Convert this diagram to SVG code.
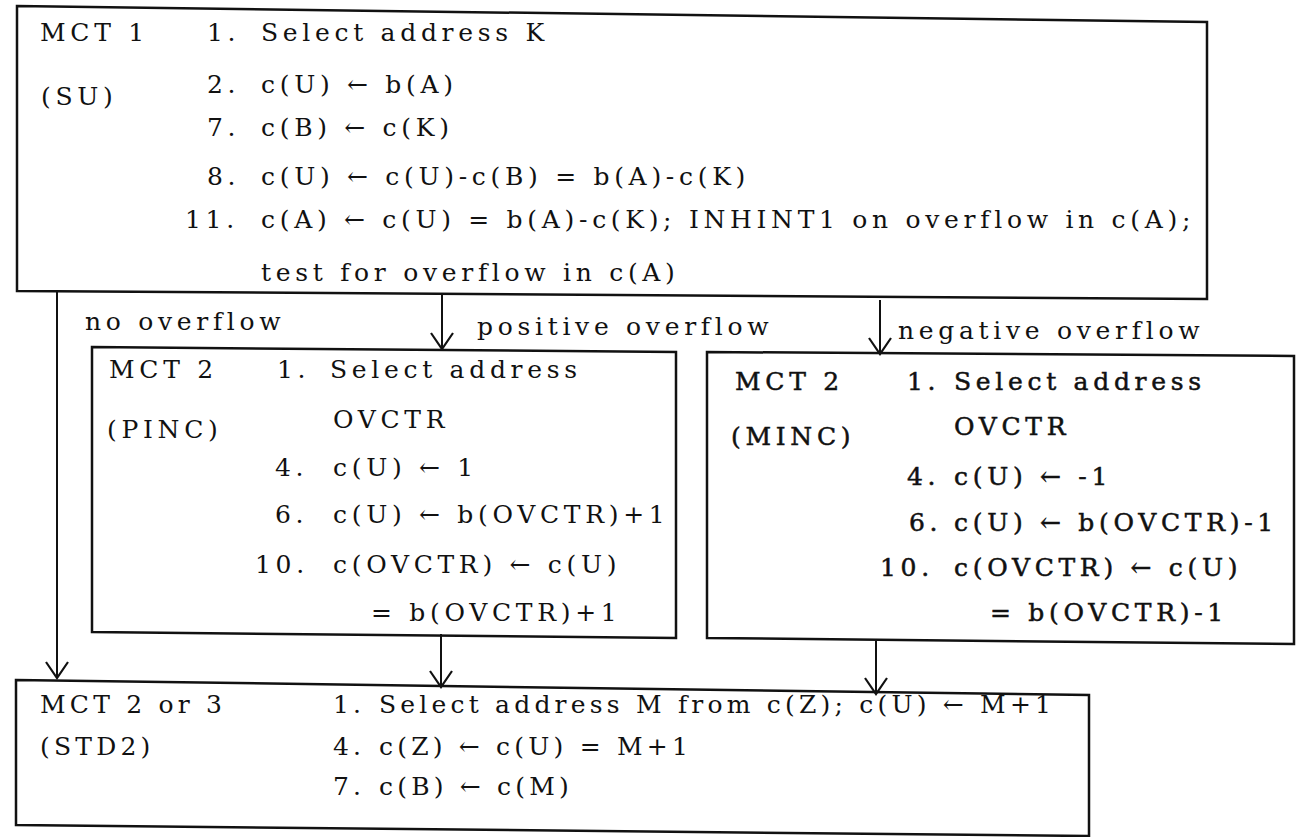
<svg xmlns="http://www.w3.org/2000/svg" width="1297" height="837" viewBox="0 0 1297 837">
<style>
  .box { fill: none; stroke: #111; stroke-width: 2.5; stroke-linejoin: miter; }
  .t { font-family: "DejaVu Serif", "Liberation Serif", serif; font-size: 25px; letter-spacing: 4.7px; fill: #111; }
  .b { stroke: #111; stroke-width: 0.5px; }
  .n { letter-spacing: 4.2px; }
  .conn { fill: none; stroke: #111; stroke-width: 2; }
</style>
<defs>
  <marker id="vh" markerUnits="userSpaceOnUse" markerWidth="20" markerHeight="26" viewBox="0 0 20 26" refX="17" refY="13" orient="auto">
    <path d="M1,2 L17,13 L1,24" fill="none" stroke="#111" stroke-width="2.2"/>
  </marker>
</defs>
<rect x="0" y="0" width="1297" height="837" fill="#fff"/>

<g id="connectors">
  <line class="conn" x1="57" y1="291" x2="57" y2="678" marker-end="url(#vh)"/>
  <line class="conn" x1="442" y1="295" x2="442" y2="349" marker-end="url(#vh)"/>
  <line class="conn" x1="880" y1="300" x2="880" y2="354" marker-end="url(#vh)"/>
  <line class="conn" x1="441" y1="634" x2="441" y2="687" marker-end="url(#vh)"/>
  <line class="conn" x1="876" y1="641" x2="876" y2="694" marker-end="url(#vh)"/>
  <text class="t" x="85" y="330">no overflow</text>
  <text class="t" x="477" y="335">positive overflow</text>
  <text class="t" x="898" y="339">negative overflow</text>
</g>

<g id="su">
  <polygon class="box" points="17,6 1207,22 1207,299 17,291"/>
  <text class="t" x="40" y="41">MCT 1</text>
  <text class="t" x="41" y="105">(SU)</text>
  <text class="t" x="207" y="41">1.</text>
  <text class="t" x="261" y="41">Select address K</text>
  <text class="t" x="207" y="93">2.</text>
  <text class="t" x="261" y="93">c(U) ← b(A)</text>
  <text class="t" x="207" y="136">7.</text>
  <text class="t" x="261" y="136">c(B) ← c(K)</text>
  <text class="t" x="207" y="185">8.</text>
  <text class="t" x="261" y="185">c(U) ← c(U)-c(B) = b(A)-c(K)</text>
  <text class="t" x="185" y="228">11.</text>
  <text class="t" x="261" y="228">c(A) ← c(U) = b(A)-c(K); INHINT1 on overflow in c(A);</text>
  <text class="t" x="261" y="281">test for overflow in c(A)</text>
</g>

<g id="pinc">
  <polygon class="box" points="92,347 676,352 676,638 92,632"/>
  <text class="t" x="109" y="378">MCT 2</text>
  <text class="t" x="107" y="438">(PINC)</text>
  <text class="t" x="277" y="378">1.</text>
  <text class="t" x="330" y="378">Select address</text>
  <text class="t" x="333" y="428">OVCTR</text>
  <text class="t" x="275" y="476">4.</text>
  <text class="t" x="333" y="476">c(U) ← 1</text>
  <text class="t" x="275" y="523">6.</text>
  <text class="t" x="333" y="523">c(U) ← b(OVCTR)+1</text>
  <text class="t" x="255" y="573">10.</text>
  <text class="t" x="333" y="573">c(OVCTR) ← c(U)</text>
  <text class="t" x="371" y="621">= b(OVCTR)+1</text>
</g>

<g id="minc">
  <polygon class="box" points="707,352 1294,356 1294,644 707,638"/>
  <text class="t b" x="735" y="390">MCT 2</text>
  <text class="t b" x="731" y="445">(MINC)</text>
  <text class="t b" x="907" y="390">1.</text>
  <text class="t b" x="954" y="390">Select address</text>
  <text class="t b" x="954" y="435">OVCTR</text>
  <text class="t b" x="907" y="485">4.</text>
  <text class="t b" x="954" y="485">c(U) ← -1</text>
  <text class="t b" x="909" y="531">6.</text>
  <text class="t b" x="954" y="531">c(U) ← b(OVCTR)-1</text>
  <text class="t b" x="880" y="576">10.</text>
  <text class="t b" x="954" y="576">c(OVCTR) ← c(U)</text>
  <text class="t b" x="990" y="621">= b(OVCTR)-1</text>
</g>

<g id="std2">
  <polygon class="box" points="16,680 1089,695 1089,836 16,825"/>
  <text class="t n" x="40" y="713">MCT 2 or 3</text>
  <text class="t n" x="40" y="755">(STD2)</text>
  <text class="t n" x="333" y="713">1.</text>
  <text class="t n" x="379" y="713">Select address M from c(Z); c(U) ← M+1</text>
  <text class="t n" x="333" y="755">4.</text>
  <text class="t n" x="379" y="755">c(Z) ← c(U) = M+1</text>
  <text class="t n" x="333" y="795">7.</text>
  <text class="t n" x="379" y="795">c(B) ← c(M)</text>
</g>
</svg>
